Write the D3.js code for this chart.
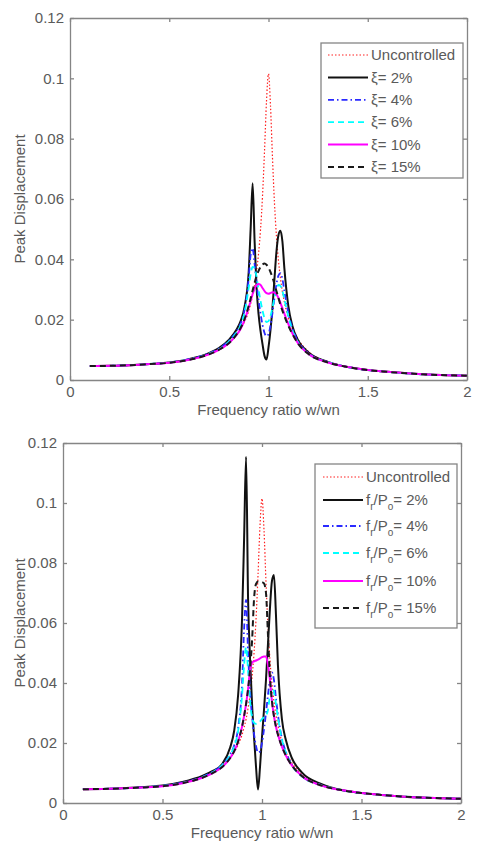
<!DOCTYPE html>
<html>
<head>
<meta charset="utf-8">
<script src="https://cdn.jsdelivr.net/npm/d3@7"></script>
<style>
  body { margin: 0; background: #fff; }
  svg text { font-family: "Liberation Sans", Arial, sans-serif; fill: #5a5a5a; }
</style>
</head>
<body>
<div id="chart"></div>
<script>
// frequency ratio w/wn, shared by every curve
const freqRatio = [0.1, 0.2, 0.3, 0.4, 0.5, 0.6, 0.7, 0.75, 0.8, 0.84, 0.86, 0.88, 0.9, 0.91, 0.92, 0.93, 0.94, 0.95, 0.96, 0.97, 0.98, 0.99, 1.0,
  1.01, 1.02, 1.03, 1.04, 1.05, 1.06, 1.07, 1.08, 1.1, 1.12, 1.15, 1.2, 1.3, 1.4, 1.5, 1.6, 1.7, 1.8, 1.9, 2.0];

// peak displacement, uncontrolled structure (same in both plots)
const uncontrolled = [0.0046, 0.0047, 0.0049, 0.0052, 0.0057, 0.0067, 0.0085, 0.0100, 0.0122, 0.0150, 0.0170, 0.0194, 0.0228, 0.0252, 0.0280, 0.0316,
  0.0361, 0.0420, 0.0500, 0.0612, 0.0760, 0.0925, 0.1015, 0.0910, 0.0738, 0.0588, 0.0477, 0.0397, 0.0338, 0.0293, 0.0258, 0.0205, 0.0170, 0.0134,
  0.0095, 0.0060, 0.0043, 0.0033, 0.0027, 0.0022, 0.0018, 0.0016, 0.0014];

// upper plot: damping ratio xi
const xi2 = [0.0046, 0.0047, 0.0049, 0.0053, 0.0058, 0.0069, 0.0089, 0.0106, 0.0133, 0.0168, 0.0196, 0.0245, 0.0355, 0.0500, 0.0652, 0.0460,
  0.0305, 0.0218, 0.0162, 0.0118, 0.0080, 0.0068, 0.0108, 0.0165, 0.0240, 0.0335, 0.0425, 0.0480, 0.0495, 0.0460, 0.0370, 0.0245, 0.0180, 0.0130,
  0.0092, 0.0060, 0.0043, 0.0033, 0.0027, 0.0022, 0.0018, 0.0016, 0.0014];
const xi4 = [0.0046, 0.0047, 0.0049, 0.0053, 0.0058, 0.0069, 0.0088, 0.0104, 0.0130, 0.0163, 0.0188, 0.0235, 0.0335, 0.0415, 0.0437, 0.0385,
  0.0320, 0.0265, 0.0220, 0.0182, 0.0156, 0.0145, 0.0152, 0.0180, 0.0222, 0.0272, 0.0318, 0.0346, 0.0354, 0.0335, 0.0295, 0.0222, 0.0172, 0.0127,
  0.0090, 0.0059, 0.0043, 0.0033, 0.0027, 0.0022, 0.0018, 0.0016, 0.0014];
const xi6 = [0.0046, 0.0047, 0.0049, 0.0053, 0.0058, 0.0068, 0.0087, 0.0102, 0.0127, 0.0158, 0.0182, 0.0225, 0.0305, 0.0350, 0.0375, 0.0372,
  0.0340, 0.0300, 0.0262, 0.0230, 0.0205, 0.0192, 0.0195, 0.0212, 0.0240, 0.0272, 0.0300, 0.0315, 0.0312, 0.0295, 0.0268, 0.0210, 0.0166, 0.0124,
  0.0088, 0.0059, 0.0043, 0.0033, 0.0027, 0.0022, 0.0018, 0.0016, 0.0014];
const xi10 = [0.0046, 0.0047, 0.0049, 0.0053, 0.0057, 0.0067, 0.0085, 0.0100, 0.0122, 0.0150, 0.0170, 0.0200, 0.0240, 0.0262, 0.0285, 0.0303,
  0.0315, 0.0318, 0.0315, 0.0305, 0.0295, 0.0288, 0.0286, 0.0288, 0.0291, 0.0290, 0.0284, 0.0272, 0.0256, 0.0238, 0.0220, 0.0185, 0.0155, 0.0120,
  0.0087, 0.0058, 0.0043, 0.0033, 0.0027, 0.0022, 0.0018, 0.0016, 0.0014];
const xi15 = [0.0046, 0.0047, 0.0049, 0.0053, 0.0057, 0.0067, 0.0085, 0.0100, 0.0122, 0.0152, 0.0173, 0.0203, 0.0245, 0.0270, 0.0297, 0.0322,
  0.0345, 0.0362, 0.0375, 0.0383, 0.0386, 0.0382, 0.0372, 0.0358, 0.0340, 0.0318, 0.0295, 0.0272, 0.0250, 0.0230, 0.0212, 0.0180, 0.0153, 0.0120,
  0.0087, 0.0058, 0.0043, 0.0033, 0.0027, 0.0022, 0.0018, 0.0016, 0.0014];

// lower plot: friction force ratio fr/Po
const fr2 = [0.0046, 0.0047, 0.0049, 0.0053, 0.0058, 0.0070, 0.0090, 0.0106, 0.0130, 0.0185, 0.0240, 0.0360, 0.0620, 0.0880, 0.1154, 0.0680,
  0.0480, 0.0330, 0.0220, 0.0120, 0.0045, 0.0120, 0.0220, 0.0310, 0.0410, 0.0530, 0.0650, 0.0740, 0.0760, 0.0630, 0.0460, 0.0280, 0.0210, 0.0150,
  0.0102, 0.0063, 0.0043, 0.0033, 0.0027, 0.0022, 0.0018, 0.0016, 0.0014];
const fr4 = [0.0046, 0.0047, 0.0049, 0.0052, 0.0057, 0.0068, 0.0087, 0.0103, 0.0128, 0.0162, 0.0192, 0.0250, 0.0400, 0.0580, 0.0677, 0.0500,
  0.0370, 0.0290, 0.0230, 0.0190, 0.0168, 0.0172, 0.0200, 0.0245, 0.0300, 0.0360, 0.0410, 0.0435, 0.0410, 0.0350, 0.0295, 0.0215, 0.0170, 0.0128,
  0.0090, 0.0059, 0.0043, 0.0033, 0.0027, 0.0022, 0.0018, 0.0016, 0.0014];
const fr6 = [0.0046, 0.0047, 0.0049, 0.0052, 0.0057, 0.0067, 0.0086, 0.0102, 0.0126, 0.0160, 0.0188, 0.0240, 0.0360, 0.0460, 0.0520, 0.0440,
  0.0340, 0.0285, 0.0268, 0.0264, 0.0266, 0.0272, 0.0280, 0.0286, 0.0292, 0.0310, 0.0360, 0.0385, 0.0370, 0.0330, 0.0285, 0.0212, 0.0168, 0.0126,
  0.0089, 0.0059, 0.0043, 0.0033, 0.0027, 0.0022, 0.0018, 0.0016, 0.0014];
const fr10 = [0.0046, 0.0047, 0.0049, 0.0052, 0.0056, 0.0066, 0.0084, 0.0099, 0.0120, 0.0150, 0.0172, 0.0205, 0.0255, 0.0290, 0.0330, 0.0380,
  0.0440, 0.0468, 0.0472, 0.0475, 0.0478, 0.0482, 0.0486, 0.0488, 0.0488, 0.0460, 0.0410, 0.0340, 0.0290, 0.0255, 0.0228, 0.0188, 0.0158, 0.0125,
  0.0090, 0.0058, 0.0043, 0.0033, 0.0027, 0.0022, 0.0018, 0.0016, 0.0014];
const fr15 = [0.0046, 0.0047, 0.0049, 0.0052, 0.0056, 0.0066, 0.0084, 0.0099, 0.0120, 0.0150, 0.0172, 0.0205, 0.0255, 0.0290, 0.0330, 0.0380,
  0.0445, 0.0540, 0.0680, 0.0730, 0.0738, 0.0738, 0.0736, 0.0732, 0.0700, 0.0560, 0.0420, 0.0340, 0.0290, 0.0255, 0.0228, 0.0188, 0.0158, 0.0125,
  0.0090, 0.0058, 0.0043, 0.0033, 0.0027, 0.0022, 0.0018, 0.0016, 0.0014];

// ticks and labels
const xTicks = [0, 0.5, 1, 1.5, 2];
const xTickLabels = ["0", "0.5", "1", "1.5", "2"];
const yTicks = [0, 0.02, 0.04, 0.06, 0.08, 0.1, 0.12];
const yTickLabels = ["0", "0.02", "0.04", "0.06", "0.08", "0.1", "0.12"];
const xiLabels = ["Uncontrolled", "ξ= 2%", "ξ= 4%", "ξ= 6%", "ξ= 10%", "ξ= 15%"];
const frLabels = ["Uncontrolled", "2%", "4%", "6%", "10%", "15%"];

// matlab-like line styles, in plotting order
const styles = [
  { color: "#ff2020", width: 1.2, dash: "1.5,2" },
  { color: "#111", width: 2, dash: null },
  { color: "#2a2aff", width: 1.8, dash: "6,3,1.5,3" },
  { color: "#00ffff", width: 1.8, dash: "6,4" },
  { color: "#ff00ff", width: 2, dash: null },
  { color: "#1a1a1a", width: 2, dash: "6,4" }
];

const svg = d3.select("#chart").append("svg")
  .attr("width", 478)
  .attr("height", 844);

function drawPanel(p) {
  const x = d3.scaleLinear().domain([0, 2]).range([p.left, p.right]);
  const y = d3.scaleLinear().domain([0, 0.12]).range([p.bottom, p.top]);
  const g = svg.append("g");

  const line = d3.line()
    .x((d, i) => x(freqRatio[i]))
    .y(d => y(d))
    .curve(d3.curveMonotoneX);

  p.series.forEach((s, i) => {
    g.append("path")
      .datum(s)
      .attr("d", line)
      .attr("fill", "none")
      .attr("stroke", styles[i].color)
      .attr("stroke-width", styles[i].width)
      .attr("stroke-dasharray", styles[i].dash);
  });

  // box with inward ticks on every side
  const axes = [
    g.append("g").attr("transform", `translate(0,${p.bottom})`)
      .call(d3.axisBottom(x).tickValues(xTicks).tickFormat((d, i) => xTickLabels[i]).tickSizeInner(-4).tickSizeOuter(0).tickPadding(6)),
    g.append("g").attr("transform", `translate(${p.left},0)`)
      .call(d3.axisLeft(y).tickValues(yTicks).tickFormat((d, i) => yTickLabels[i]).tickSizeInner(-4).tickSizeOuter(0).tickPadding(6)),
    g.append("g").attr("transform", `translate(0,${p.top})`)
      .call(d3.axisTop(x).tickValues(xTicks).tickFormat("").tickSizeInner(-4).tickSizeOuter(0)),
    g.append("g").attr("transform", `translate(${p.right},0)`)
      .call(d3.axisRight(y).tickValues(yTicks).tickFormat("").tickSizeInner(-4).tickSizeOuter(0))
  ];
  axes.forEach(a => {
    a.attr("font-size", 15).attr("font-family", null);
    a.selectAll("path.domain, line").attr("stroke", "#858585").attr("stroke-width", 1.3);
    a.selectAll("text").attr("fill", "#5a5a5a");
  });

  g.append("text")
    .attr("transform", `translate(20,${(p.top + p.bottom) / 2}) rotate(-90)`)
    .attr("text-anchor", "middle")
    .attr("dy", "0.35em")
    .attr("font-size", 15)
    .text("Peak Displacement");

  g.append("text")
    .attr("x", (p.left + p.right) / 2)
    .attr("y", p.bottom + 35)
    .attr("text-anchor", "middle")
    .attr("font-size", 15)
    .text("Frequency ratio w/wn");

  // legend
  const L = p.legend;
  g.append("rect")
    .attr("x", L.x).attr("y", L.y)
    .attr("width", L.w).attr("height", L.h)
    .attr("fill", "#fff")
    .attr("stroke", "#858585")
    .attr("stroke-width", 1.3);

  p.labels.forEach((lab, i) => {
    const ry = L.y + L.rows[i];
    g.append("line")
      .attr("x1", L.x + L.lineFrom).attr("x2", L.x + L.lineFrom + 40)
      .attr("y1", ry).attr("y2", ry)
      .attr("stroke", styles[i].color)
      .attr("stroke-width", styles[i].width)
      .attr("stroke-dasharray", styles[i].dash);
    const t = g.append("text")
      .attr("x", L.x + L.lineFrom + 43)
      .attr("y", ry)
      .attr("dy", "0.35em")
      .attr("font-size", 15);
    if (p.friction && i > 0) {
      t.append("tspan").text("f");
      t.append("tspan").attr("font-size", 10).attr("dy", 5).text("r");
      t.append("tspan").attr("dy", -5).text("/P");
      t.append("tspan").attr("font-size", 10).attr("dy", 5).text("o");
      t.append("tspan").attr("dy", -5).text("= " + lab);
    } else {
      t.text(lab);
    }
  });
}

drawPanel({
  left: 70, right: 467, top: 18, bottom: 380,
  series: [uncontrolled, xi2, xi4, xi6, xi10, xi15],
  labels: xiLabels,
  friction: false,
  legend: { x: 321, y: 43, w: 142, h: 135, lineFrom: 7, rows: [12, 34.4, 56.8, 79.2, 101.6, 124] }
});

drawPanel({
  left: 63, right: 461, top: 443, bottom: 803,
  series: [uncontrolled, fr2, fr4, fr6, fr10, fr15],
  labels: frLabels,
  friction: true,
  legend: { x: 315, y: 464, w: 142, h: 164, lineFrom: 8, rows: [13, 36, 62, 89, 117, 144] }
});
</script>
</body>
</html>
